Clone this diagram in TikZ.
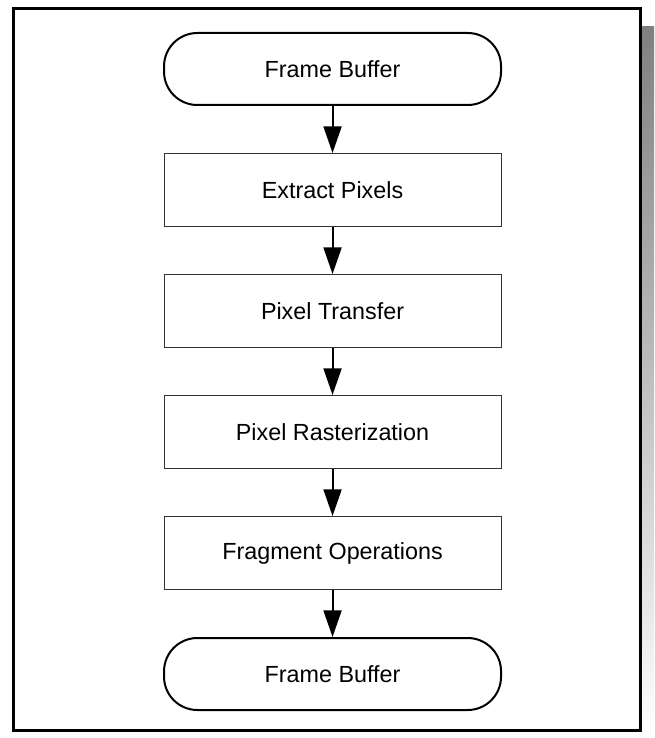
\documentclass[tikz,border=0pt]{standalone}
\usepackage{fontspec}
\setmainfont{Liberation Sans}
\usepackage{tikz}
\usetikzlibrary{arrows.meta,positioning}
\definecolor{shade}{HTML}{808080}
\tikzset{term/.style={draw=black,line width=1.5pt,rounded corners=25pt,
  minimum width=252.75pt,minimum height=54pt,font=\fontsize{17.5}{21}\selectfont},
  stepbox/.style={draw=black!80,line width=0.75pt,
  minimum width=252.75pt,minimum height=54.75pt,font=\fontsize{17.5}{21}\selectfont},
  flow/.style={-{Triangle[length=20pt,width=13.5pt]},line width=1.5pt}}

\begin{document}
\begin{tikzpicture}[node distance=35.25pt]
\useasboundingbox (0,0) rectangle (490.5pt,-553.5pt);
% frame with shadow
\fill[shade] (20.25pt,-20.25pt) rectangle (490.5pt,-553.5pt);
\draw[line width=2.25pt,fill=white] (9.75pt,-6.75pt) rectangle (480pt,-547.5pt);
\node[term] (fb) at (249.4pt,-51.75pt) {Frame Buffer};
\node[stepbox,below=of fb] (ext) {Extract Pixels};
\node[stepbox,below=of ext] (xfer) {Pixel Transfer};
\node[stepbox,below=of xfer] (rast) {Pixel Rasterization};
\node[stepbox,below=of rast] (frag) {Fragment Operations};
\node[term,below=of frag] (fb2) {Frame Buffer};
\draw[flow] (fb)--(ext);
\draw[flow] (ext)--(xfer);
\draw[flow] (xfer)--(rast);
\draw[flow] (rast)--(frag);
\draw[flow] (frag)--(fb2);
\end{tikzpicture}
\end{document}
